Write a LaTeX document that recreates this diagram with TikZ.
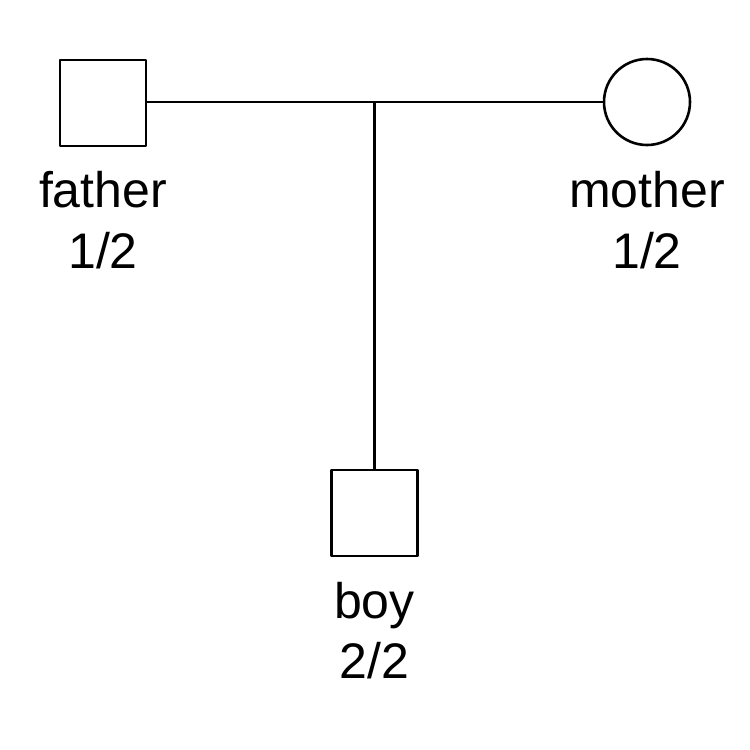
\documentclass[tikz,border=0pt]{standalone}
\usepackage{fontspec}
\setmainfont{Liberation Sans}
\begin{document}
\begin{tikzpicture}[x=1pt,y=-1pt,
  line width=2.6pt, line join=round,
  male/.style={draw, rectangle, minimum width=86pt, minimum height=86pt, inner sep=0pt},
  female/.style={draw, circle, minimum size=86pt, inner sep=0pt},
  lbl/.style={anchor=base, inner sep=0pt, font=\fontsize{50}{60}\selectfont}]
\useasboundingbox (0,0) rectangle (750,750);
\node[male] (father) at (103,103) {};
\node[female] (mother) at (647,102) {};
\node[male] (boy) at (374.5,513) {};
\coordinate (mid) at (374.5,102);
\draw (father.east |- mother.west) -- (mother.west);
\draw (mid) -- (boy.north);
\node[lbl] (fname) at (103,207) {father};
\node[lbl] (fgt) at (103,268) {1/2};
\node[lbl] (mname) at (647,207) {mother};
\node[lbl] (mgt) at (647,268) {1/2};
\node[lbl] (bname) at (374.5,618) {boy};
\node[lbl] (bgt) at (374.5,678) {2/2};
\end{tikzpicture}
\end{document}
